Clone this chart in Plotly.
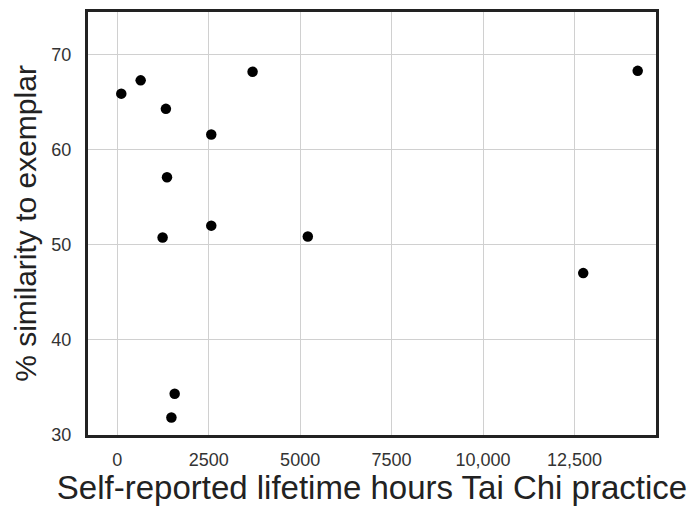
import plotly.graph_objects as go

hours = [110, 640, 1330, 2570, 3700, 1360, 2570, 1240, 5210, 1570, 1480, 14230, 12740]
similarity = [65.9, 67.3, 64.3, 61.6, 68.2, 57.1, 52.0, 50.75, 50.85, 34.3, 31.8, 68.3, 47.0]

x_tickvals = [0, 2500, 5000, 7500, 10000, 12500]
x_ticktext = ["0", "2500", "5000", "7500", "10,000", "12,500"]
y_tickvals = [30, 40, 50, 60, 70]

fig = go.Figure()
fig.add_trace(go.Scatter(
    x=hours, y=similarity, mode="markers",
    marker=dict(color="black", size=10.5),
    showlegend=False,
))

font_family = "Liberation Sans, Arial, sans-serif"
fig.update_layout(
    width=691, height=506,
    margin=dict(l=88, r=35, t=9, b=71),
    paper_bgcolor="white", plot_bgcolor="white",
    font=dict(family=font_family, color="#222"),
)
fig.update_xaxes(
    range=[-800, 14730],
    tickvals=x_tickvals, ticktext=x_ticktext,
    showgrid=True, gridcolor="#d0d0d0", gridwidth=1,
    showline=True, linecolor="#222", linewidth=3, mirror=True,
    zeroline=False, ticks="", ticklen=0,
    ticklabelstandoff=6,
    tickfont=dict(size=18, color="#333"),
    title=dict(text="Self-reported lifetime hours Tai Chi practice",
               font=dict(size=33, color="#222"), standoff=4),
)
fig.update_yaxes(
    range=[29.95, 74.5],
    tickvals=y_tickvals,
    showgrid=True, gridcolor="#d0d0d0", gridwidth=1,
    showline=True, linecolor="#222", linewidth=3, mirror=True,
    zeroline=False, ticks="", ticklen=0,
    ticklabelstandoff=10,
    tickfont=dict(size=18, color="#333"),
    title=dict(text="% similarity to exemplar",
               font=dict(size=30, color="#222"), standoff=6),
)

fig.write_html("out.html")
